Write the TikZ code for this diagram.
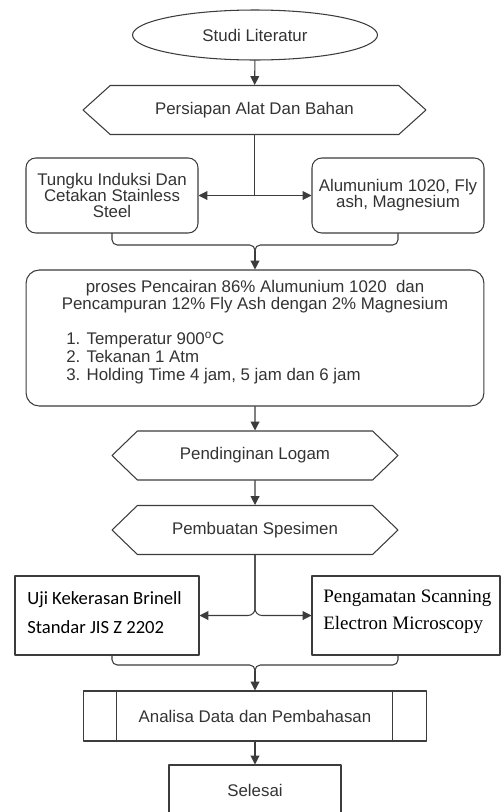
\documentclass[tikz,border=0pt]{standalone}
\usepackage{fontspec}
\setmainfont{Liberation Sans}
\newfontfamily\calibrifont{Carlito}
\newfontfamily\cambriafont{Liberation Serif}
\usetikzlibrary{arrows.meta,shapes.geometric,shapes.symbols,calc}
\definecolor{flowink}{HTML}{333333}
\definecolor{flowline}{HTML}{3C3C3C}

\begin{document}
\begin{tikzpicture}[x=.02cm,y=-.02cm,>={Triangle[length=5pt,width=5pt]},
  line cap=round,line join=round,
  font=\fontsize{9.6}{9.1}\selectfont,text=flowink,
  terminal/.style={ellipse,draw=flowline,line width=.6pt,inner sep=0pt,
    minimum width=4.9cm,minimum height=1cm},
  prep/.style={signal,signal to=west and east,draw=flowline,line width=.6pt,
    inner sep=0pt,minimum height=.98cm},
  roundbox/.style={rectangle,rounded corners=5.5pt,draw=flowline,line width=.6pt,
    inner sep=0pt,align=center,minimum width=3.44cm,minimum height=1.5cm},
  plainbox/.style={rectangle,draw=flowline,line width=.6pt,inner sep=0pt},
  wire/.style={flowline,line width=.6pt},
  flow/.style={wire,->}]
\useasboundingbox (0,0) rectangle (502,812);

% top part: literature and materials
\node[terminal] (studi) at (255,35) {Studi Literatur};
\node[prep,minimum width=6.86cm,signal pointer angle=84] (persiapan) at (254.5,110)
  {Persiapan Alat Dan Bahan};
\node[roundbox] (tungku) at (112,195.5)
  {Tungku Induksi Dan\\Cetakan Stainless\\Steel};
\node[roundbox] (alum) at (398,195.5)
  {Alumunium 1020, Fly\\ash, Magnesium};
\coordinate (split1) at (persiapan.south |- tungku.east);
\coordinate (brace1top) at (255,245);
\coordinate (brace1) at (255,251);

\draw[flow] (studi) -- (persiapan);
\draw[wire] (persiapan.south) -- (split1);
\draw[flow] (split1) -- (tungku.east);
\draw[flow] (split1) -- (alum.west);
\draw[wire,rounded corners=3pt] (tungku.south) |- (brace1top) -- (brace1);
\draw[wire,rounded corners=3pt] (alum.south) |- (brace1top) -- (brace1);

% melting process
\node[plainbox,rounded corners=7.5pt,minimum width=9.16cm,minimum height=2.72cm]
  (proses) at (255,338) {};
\node[align=center,inner sep=0pt,font=\fontsize{9.6}{9.6}\selectfont] (prosesjudul)
  at (255,297)
  {proses Pencairan 86\% Alumunium 1020\ \ dan\\
   Pencampuran 12\% Fly Ash dengan 2\% Magnesium};
\node[align=left,anchor=west,inner sep=0pt,font=\fontsize{9.6}{10.2}\selectfont]
  (prosesitem) at (66,358)
  {1. Temperatur 900\textsuperscript{o}C\\
   2. Tekanan 1 Atm\\
   3. Holding Time 4 jam, 5 jam dan 6 jam};
\draw[flow] (brace1) -- (proses.north);

\node[prep,minimum width=5.72cm,signal pointer angle=88] (dingin) at (255,455.5)
  {Pendinginan Logam};
\node[prep,minimum width=5.72cm,signal pointer angle=88] (spesimen) at (255,530)
  {Pembuatan Spesimen};
\draw[flow] (proses) -- (dingin);
\draw[flow] (dingin) -- (spesimen);

% testing
\node[plainbox,minimum width=3.68cm,minimum height=1.58cm] (uji) at (107,615.5) {};
\node[plainbox,minimum width=3.76cm,minimum height=1.58cm] (sem) at (406,615.5) {};
\node[anchor=west,align=left,inner sep=0pt,
  font=\calibrifont\fontsize{10.6}{16.4}\selectfont,text=black] (ujitext)
  at (27,612.5) {Uji Kekerasan Brinell\\Standar JIS Z 2202};
\node[anchor=west,align=left,inner sep=0pt,
  font=\cambriafont\fontsize{10.8}{15.3}\selectfont,text=black] (semtext)
  at (323,611.7) {Pengamatan Scanning\\Electron Microscopy};
\draw[flow,rounded corners=4pt] (spesimen.south) |- (uji.east);
\draw[flow,rounded corners=4pt] (spesimen.south) |- (sem.west);

\coordinate (brace2top) at (255,665);
\coordinate (brace2) at (255,671);
\draw[wire,rounded corners=3pt] (uji.south -| tungku.south) |- (brace2top) -- (brace2);
\draw[wire,rounded corners=3pt] (sem.south -| alum.south) |- (brace2top) -- (brace2);

% analysis and end
\node[plainbox,minimum width=6.88cm,minimum height=1cm] (analisa) at (255,716)
  {Analisa Data dan Pembahasan};
\draw[wire] ([xshift=.68cm]analisa.north west) -- ([xshift=.68cm]analisa.south west);
\draw[wire] ([xshift=-.7cm]analisa.north east) -- ([xshift=-.7cm]analisa.south east);
\node[plainbox,minimum width=3.44cm,minimum height=1cm] (selesai) at (255,790)
  {Selesai};
\draw[flow] (brace2) -- (analisa.north);
\draw[flow] (analisa) -- (selesai);
\end{tikzpicture}
\end{document}
